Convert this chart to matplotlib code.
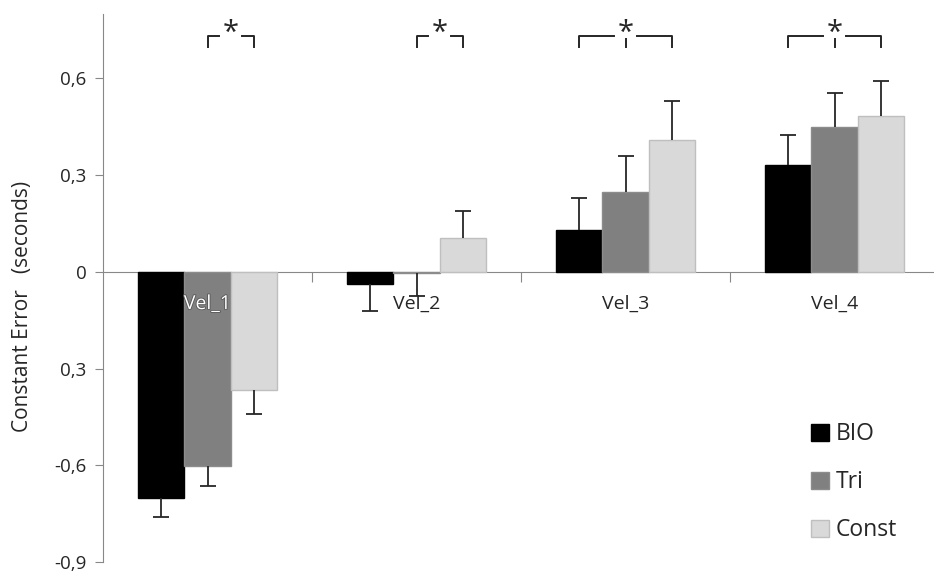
import numpy as np
import matplotlib
matplotlib.use("Agg")
import matplotlib.pyplot as plt
import matplotlib.patheffects as pe

plt.rcParams['font.family'] = ['Open Sans', 'DejaVu Sans']

categories = ["Vel_1", "Vel_2", "Vel_3", "Vel_4"]
groups = ["BIO", "Tri", "Const"]
bio = [-0.70, -0.037, 0.131, 0.331]
tri = [-0.603, -0.005, 0.249, 0.448]
const = [-0.367, 0.106, 0.41, 0.483]
bio_err = [0.06, 0.084, 0.097, 0.093]
tri_err = [0.062, 0.07, 0.109, 0.106]
const_err = [0.073, 0.082, 0.119, 0.11]
# significant pairs (group index) per category
sig_pairs = [(1, 2), (1, 2), (0, 2), (0, 2)]
yticks = [-0.9, -0.6, -0.3, 0, 0.3, 0.6]
ytick_labels = ["-0,9", "-0,6", "0,3", "0", "0,3", "0,6"]

colors = ["#000000", "#808080", "#d9d9d9"]
edges = ["#000000", "#8c8c8c", "#bfbfbf"]
ink = '#262626'

fig = plt.figure(figsize=(9.34, 5.72), dpi=100)
ax = fig.add_axes([103 / 934, 1 - 562 / 572, 836 / 934, 548 / 572])

x = np.arange(len(categories))
w = 0.2225
offsets = [-w, 0, w]
for vals, errs, off, c, ec, name in zip([bio, tri, const], [bio_err, tri_err, const_err],
                                        offsets, colors, edges, groups):
    vals = np.array(vals)
    errs = np.array(errs)
    ends = vals + np.sign(vals) * errs
    ax.bar(x + off, vals, w, color=c, edgecolor=ec, linewidth=1, label=name, zorder=2)
    # one-sided error bars, cap only at the far end
    ax.vlines(x + off, vals, ends, color=ink, lw=1.3, zorder=3)
    ax.plot(x + off, ends, ls='none', marker='_', ms=11, mew=1.3, color=ink, zorder=3)

# category labels just under zero line
for i, cat in enumerate(categories):
    if i == 0:
        ax.text(i, -0.1, cat, ha='center', va='center', fontsize=14, color='white', zorder=5,
                path_effects=[pe.withStroke(linewidth=1.2, foreground='#555555')])
    else:
        ax.text(i, -0.1, cat, ha='center', va='center', fontsize=14, color=ink, zorder=5)

# significance brackets
y_top, y_bot = 0.732, 0.697
for i, (a, b) in enumerate(sig_pairs):
    xa = x[i] + offsets[a]
    xb = x[i] + offsets[b]
    xm = (xa + xb) / 2
    gap = 0.055
    kw = dict(color=ink, lw=1.4, zorder=4)
    ax.plot([xa, xa, xm - gap], [y_bot, y_top, y_top], **kw)
    ax.plot([xm + gap, xb, xb], [y_top, y_top, y_bot], **kw)
    if b - a > 1:
        ax.plot([xm, xm], [y_top - 0.011, y_bot], **kw)
    ax.text(xm, 0.717, "*", ha='center', va='baseline', fontsize=21, color=ink)

ax.set_xlim(-0.5, 3.5)
ax.set_ylim(-0.9, 0.8)
ax.set_yticks(yticks)
ax.set_yticklabels(ytick_labels)
ax.set_xticks([0.5, 1.5, 2.5])
ax.set_xticklabels([])

for s in ['top', 'right']:
    ax.spines[s].set_visible(False)
ax.spines['bottom'].set_position(('data', 0))
ax.spines['bottom'].set_color('#888888')
ax.spines['left'].set_color('#888888')
ax.spines['bottom'].set_zorder(1)
ax.tick_params(axis='y', length=6, color='#888888', labelsize=13.5, labelcolor=ink, pad=6)
ax.tick_params(axis='x', length=7, color='#888888', direction='out')

ax.set_ylabel("Constant Error   (seconds)", fontsize=15, color=ink)
ax.yaxis.set_label_coords(-0.084, 0.466)

leg = ax.legend(loc='lower left', frameon=False, fontsize=16.5,
                handlelength=0.8, handleheight=0.8, handletextpad=0.3, labelspacing=1.05,
                labelcolor=ink)
leg.set_bbox_to_anchor((790 / 934, 9 / 572), transform=fig.transFigure)

fig.savefig("out.png", dpi=100)
